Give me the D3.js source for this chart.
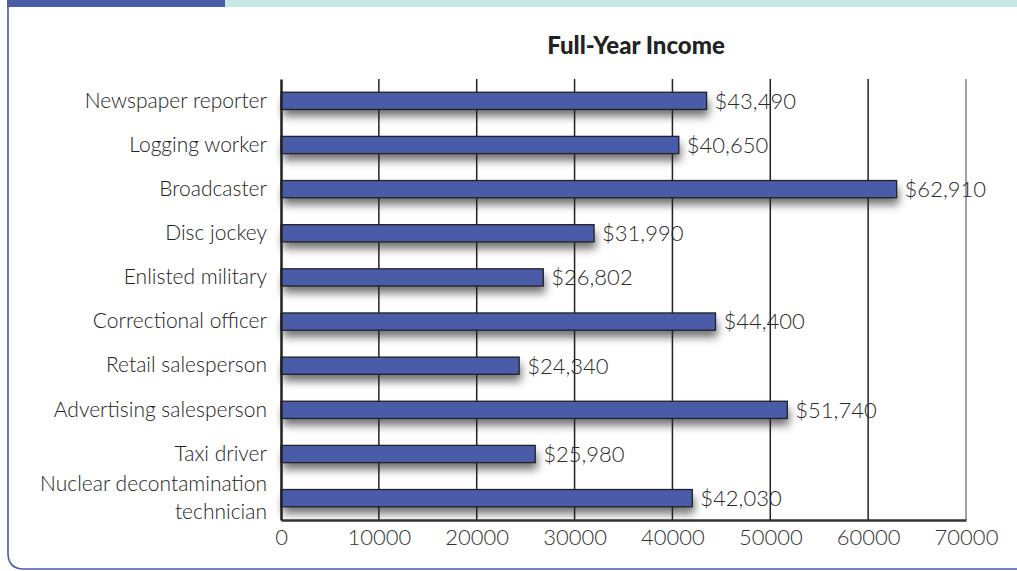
<!DOCTYPE html>
<html>
<head>
<meta charset="utf-8">
<script src="https://cdn.jsdelivr.net/npm/d3@7"></script>
<style>
  body { margin: 0; background: #fff; }
  svg { display: block; font-family: Lato, "Open Sans", sans-serif; }
</style>
</head>
<body>
<div id="chart"></div>
<script>
// Data
const jobs = [
  'Newspaper reporter', 'Logging worker', 'Broadcaster', 'Disc jockey',
  'Enlisted military', 'Correctional officer', 'Retail salesperson',
  'Advertising salesperson', 'Taxi driver', 'Nuclear decontamination technician'
];
const incomes = [43490, 40650, 62910, 31990, 26802, 44400, 24340, 51740, 25980, 42030];
const xTicks = [0, 10000, 20000, 30000, 40000, 50000, 60000, 70000];

// Dimensions
const dimensions = {
  width: 1017,
  height: 571,
  margins: { top: 79, right: 51, bottom: 51, left: 281 }
};
dimensions.ctrWidth = dimensions.width - dimensions.margins.left - dimensions.margins.right;
dimensions.ctrHeight = dimensions.height - dimensions.margins.top - dimensions.margins.bottom;

const svg = d3.select('#chart')
  .append('svg')
  .attr('width', dimensions.width)
  .attr('height', dimensions.height);

// blur for the bar shadows
svg.append('defs')
  .append('filter')
  .attr('id', 'shadow')
  .attr('x', '-10%').attr('y', '-50%')
  .attr('width', '120%').attr('height', '250%')
  .append('feGaussianBlur')
  .attr('stdDeviation', 4);

// Frame: top banner + left border with rounded corner
svg.append('rect')
  .attr('x', 7).attr('y', 0)
  .attr('width', dimensions.width - 7).attr('height', 7)
  .attr('fill', '#c8e8e7');
svg.append('rect')
  .attr('x', 7).attr('y', 0)
  .attr('width', 218).attr('height', 7)
  .attr('fill', '#4a5ca8');
svg.append('path')
  .attr('d', `M8,0 V553 Q8,569 24,569 H${dimensions.width}`)
  .attr('fill', 'none')
  .attr('stroke', '#4a5ca8')
  .attr('stroke-width', 1.6);

// Title
svg.append('text')
  .attr('x', 636)
  .attr('y', 54)
  .attr('text-anchor', 'middle')
  .style('font-size', '24px')
  .style('font-weight', '900')
  .attr('fill', '#222')
  .text('Full-Year Income');

const ctr = svg.append('g')
  .attr('transform', `translate(${dimensions.margins.left}, ${dimensions.margins.top})`);

// Scales
const xScale = d3.scaleLinear()
  .domain([0, 70000])
  .range([0, dimensions.ctrWidth]);

const yScale = d3.scaleBand()
  .domain(jobs)
  .range([0, dimensions.ctrHeight])
  .paddingInner(0.61)
  .paddingOuter(0.3);

// Shadows under the bars
ctr.append('g')
  .selectAll('rect')
  .data(incomes)
  .join('rect')
  .attr('x', 2)
  .attr('y', (d, i) => yScale(jobs[i]) + 7)
  .attr('width', d => xScale(d))
  .attr('height', yScale.bandwidth())
  .attr('fill', '#444')
  .attr('opacity', 0.75)
  .attr('filter', 'url(#shadow)');

// Gridlines
ctr.append('g')
  .selectAll('line')
  .data(xTicks.slice(1, -1))
  .join('line')
  .attr('x1', d => xScale(d))
  .attr('x2', d => xScale(d))
  .attr('y1', 0)
  .attr('y2', dimensions.ctrHeight)
  .attr('stroke', '#222')
  .attr('stroke-width', 1.5);

ctr.append('line')
  .attr('x1', dimensions.ctrWidth).attr('x2', dimensions.ctrWidth)
  .attr('y1', 0).attr('y2', dimensions.ctrHeight)
  .attr('stroke', '#666')
  .attr('stroke-width', 1.2);

// Bars
ctr.append('g')
  .selectAll('rect')
  .data(incomes)
  .join('rect')
  .attr('x', 0)
  .attr('y', (d, i) => yScale(jobs[i]))
  .attr('width', d => xScale(d))
  .attr('height', yScale.bandwidth())
  .attr('fill', '#4a5ca8')
  .attr('stroke', '#222')
  .attr('stroke-width', 1.3);

// Value labels
ctr.append('g')
  .selectAll('text')
  .data(incomes)
  .join('text')
  .attr('x', d => xScale(d) + 8)
  .attr('y', (d, i) => yScale(jobs[i]) + yScale.bandwidth() / 2)
  .attr('dy', '0.36em')
  .style('font-size', '22px')
  .style('font-weight', '300')
  .attr('fill', '#2a2a2a')
  .text(d => '$' + d3.format(',')(d));

// Axes
const xAxis = d3.axisBottom(xScale)
  .tickValues(xTicks)
  .tickFormat(d3.format('d'))
  .tickSize(0)
  .tickPadding(9);

const xAxisGroup = ctr.append('g')
  .attr('transform', `translate(0, ${dimensions.ctrHeight})`)
  .call(xAxis);
xAxisGroup.select('.domain')
  .attr('stroke', '#333')
  .attr('stroke-width', 2.5);
xAxisGroup.selectAll('text')
  .style('font-size', '22px')
  .style('font-weight', '300')
  .style('font-family', 'Lato, "Open Sans", sans-serif')
  .attr('fill', '#333');

const yAxis = d3.axisLeft(yScale)
  .tickSize(0)
  .tickPadding(14);

const yAxisGroup = ctr.append('g').call(yAxis);
yAxisGroup.select('.domain')
  .attr('stroke', '#222')
  .attr('stroke-width', 2.5);
yAxisGroup.selectAll('text')
  .style('font-size', '21px')
  .style('font-weight', '300')
  .style('font-family', 'Lato, "Open Sans", sans-serif')
  .attr('fill', '#222')
  .each(function (d) {
    // long label goes on two lines
    if (d.length > 25) {
      const text = d3.select(this);
      const words = d.split(' ');
      const x = text.attr('x');
      text.text(null);
      text.append('tspan').attr('x', x).attr('dy', '-7px')
        .text(words.slice(0, 2).join(' '));
      text.append('tspan').attr('x', x).attr('dy', '28px')
        .text(words.slice(2).join(' '));
    }
  });
</script>
</body>
</html>
